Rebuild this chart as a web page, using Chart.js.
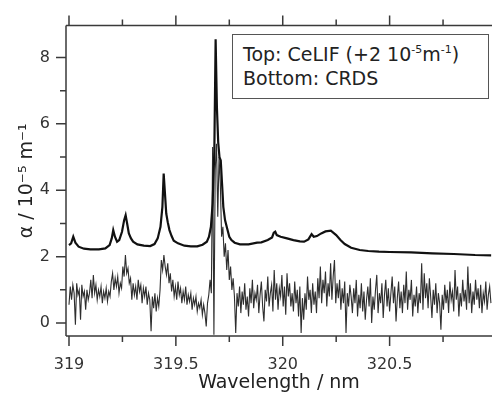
<!DOCTYPE html>
<html lang="en">
<head>
    <meta charset="UTF-8">
    <title>CeLIF vs CRDS</title>
    <script src="https://cdn.jsdelivr.net/npm/chart.js"></script>
    <style>
        body { margin: 0; background: #fff; }
        #wrap { position: relative; width: 492px; height: 395px; }
        #legendBox {
            position: absolute; left: 232px; top: 34px; width: 257px; height: 65px;
            box-sizing: border-box; border: 1px solid #555; background: #fff;
            font-family: "DejaVu Sans"; font-size: 19px; line-height: 24px; color: #222;
            padding: 7px 0 0 10px; white-space: nowrap;
        }
        #legendBox sup { font-size: 11px; vertical-align: 8px; line-height: 0; }
    </style>
</head>
<body>
    <div id="wrap">
        <canvas id="chart" width="492" height="395"></canvas>
        <div id="legendBox">Top: CeLIF (+2 10<sup>-5</sup>m<sup>-1</sup>)<br>Bottom: CRDS</div>
    </div>

    <script>
        // CRDS trace, sampled every 0.006 nm starting at 319.000 nm
        const crdsStart = 319.0;
        const crdsStep = 0.006;
        const crdsAlpha = [
            0.55, 1.1, 0.7, 1.15, 0.9, -0.05, 1.2, 0.85, 1.0, 0.1,
            1.15, 0.8, 0.95, 0.4, 1.0, 0.7, 0.9, 1.3, 0.75, 1.45,
            0.9, 1.15, 0.7, 1.0, 0.8, 1.1, 0.6, 0.95, 0.75, 1.05,
            0.65, 0.95, 0.8, 1.25, 1.5, 1.0, 1.35, 1.1, 1.4, 0.9,
            1.2, 1.05, 1.7, 1.4, 2.05, 1.5, 1.65, 1.2, 1.35, 0.7,
            1.2, 0.85, 1.1, 0.7, 1.3, 0.95, 1.15, 0.6, 1.05, 0.8,
            1.1, 0.55, 0.9, 0.7, -0.25, 0.8, 0.45, 0.9, 0.35, 0.75,
            0.5, 1.0, 1.9, 1.6, 2.05, 1.7, 1.45, 1.8, 1.2, 1.5,
            0.95, 1.3, 0.8, 1.1, 0.7, 1.25, 0.85, 1.05, 0.6, 0.95,
            0.7, 1.1, 0.55, 0.85, 0.65, 0.9, 0.4, 0.75, 0.55, 0.8,
            0.35, 0.6, 0.45, 0.7, 0.25, 0.55, 0.3, -0.1, 0.6, 0.85,
            1.3, 0.9, 5.3, -0.35, 4.6, 5.4, 3.2, 5.0, 4.2, 2.6,
            2.9, 2.0, 2.4, 1.6, 2.2, 1.3, 1.7, 1.0, 1.35, 0.8,
            -0.3, 0.9, 0.5, 1.1, 0.3, 0.95, 0.55, 1.2, 0.4, 0.8,
            0.2, 1.05, 0.6, 1.3, 0.45, 0.9, 0.7, 1.15, 0.3, 0.85,
            1.25, 0.5, 0.05, 1.0, 0.65, 1.4, 0.5, 0.9, 1.15, 0.35,
            1.6, 0.7, 1.2, 0.4, 1.05, 0.8, 1.45, 0.5, 1.1, 0.25,
            1.5, 0.8, 1.2, 0.5, 0.9, 0.35, 1.25, 0.6, 1.0, 0.2,
            1.1, -0.3, 0.75, 0.1, 0.9, 0.4, 1.4, 0.7, 1.0, 0.3,
            1.2, 0.55, 0.95, 0.3, 1.35, 0.75, 1.7, 0.6, 1.3, 0.9,
            1.55, 0.5, 1.2, 0.8, 1.8, 0.7, 1.4, 1.9, 0.6, 1.2,
            0.75, 1.3, 0.4, 1.05, 0.6, 1.25, -0.3, 0.9, 0.5, 1.15,
            0.8, 0.3, 1.05, 0.6, 1.3, 0.2, 0.85, 0.45, 1.2, 0.35,
            0.95, 0.1, 0.7, 1.1, 0.5, 1.35, 0.0, 0.8, 0.4, 1.0,
            1.45, 0.3, 0.9, 0.6, 1.2, 0.15, 0.85, 1.3, 0.5, 1.05,
            0.35, 0.9, 1.4, 0.6, 1.1, 0.05, 0.75, 1.25, 0.45, 0.95,
            0.3, 1.15, 0.6, 1.55, 0.4, 1.0, 0.7, 1.3, 0.2, 0.85,
            0.5, 1.1, 0.3, 0.9, 0.6, 1.8, 0.4, 1.5, 0.75, 1.2,
            0.45, 1.35, 0.8, 0.15, 1.0, 0.55, 1.2, 0.3, 0.9, 0.6,
            -0.2, 0.85, 0.4, 1.15, 0.6, 1.0, 0.3, 1.25, 0.7, 0.95,
            0.35, 1.6, 0.7, 1.1, 0.2, 0.9, 0.5, 1.3, 0.65, 1.0,
            0.4, 1.7, 0.6, 1.2, 0.3, 0.95, 0.55, 1.3, 0.7, 1.05,
            0.45, 1.15, 0.3, 0.9, 0.65, 1.25, 0.4, 0.85, 1.1, 0.6
        ];

        // CeLIF trace (already offset by +2)
        const celifWavelength = [
            319.000, 319.010, 319.020, 319.030, 319.045, 319.070, 319.100, 319.140, 319.170, 319.190,
            319.200, 319.207, 319.215, 319.225, 319.235, 319.248, 319.258, 319.265, 319.272, 319.280,
            319.290, 319.300, 319.320, 319.350, 319.380, 319.400, 319.415, 319.428, 319.437, 319.443,
            319.449, 319.455, 319.462, 319.470, 319.480, 319.490, 319.510, 319.540, 319.570, 319.600,
            319.625, 319.645, 319.655, 319.664, 319.672, 319.680, 319.686, 319.692, 319.698, 319.704,
            319.710, 319.716, 319.722, 319.730, 319.740, 319.750, 319.760, 319.775, 319.800, 319.840,
            319.880, 319.900, 319.930, 319.950, 319.958, 319.965, 319.972, 319.990, 320.020, 320.050,
            320.080, 320.100, 320.120, 320.135, 320.145, 320.160, 320.180, 320.200, 320.225, 320.250,
            320.270, 320.290, 320.320, 320.360, 320.400, 320.450, 320.500, 320.600, 320.700, 320.800,
            320.900, 320.975
        ];
        const celifAlpha = [
            2.35, 2.40, 2.60, 2.42, 2.30, 2.24, 2.22, 2.22, 2.25, 2.35,
            2.55, 2.80, 2.60, 2.45, 2.50, 2.75, 3.10, 3.25, 3.00, 2.70,
            2.55, 2.45, 2.37, 2.33, 2.32, 2.38, 2.55, 2.90, 3.50, 4.50,
            3.90, 3.30, 3.04, 2.80, 2.62, 2.48, 2.40, 2.33, 2.31, 2.31,
            2.36, 2.45, 2.60, 2.90, 3.60, 5.20, 8.55, 6.50, 5.45, 5.00,
            4.90, 4.20, 3.50, 3.10, 2.85, 2.60, 2.50, 2.42, 2.37, 2.37,
            2.42, 2.43, 2.50, 2.58, 2.72, 2.75, 2.65, 2.60, 2.55, 2.50,
            2.46, 2.45, 2.52, 2.68, 2.60, 2.62, 2.70, 2.76, 2.78, 2.65,
            2.50, 2.38, 2.27, 2.20, 2.17, 2.15, 2.14, 2.13, 2.10, 2.08,
            2.05, 2.04
        ];

        const xMin = 318.986, xMax = 320.979;
        const yMin = -0.39, yMax = 8.96;

        Chart.defaults.font.family = 'DejaVu Sans';

        function isMultiple(v, step) {
            return Math.abs(v / step - Math.round(v / step)) < 1e-6;
        }

        // axis lines + major/minor tick marks (top axis mirrored)
        const axesPlugin = {
            id: 'axes',
            afterDraw(chart) {
                const ctx = chart.ctx;
                const a = chart.chartArea;
                const x = chart.scales.x, y = chart.scales.y;
                ctx.save();
                ctx.strokeStyle = '#3a3a3a';
                ctx.lineWidth = 1.5;
                ctx.beginPath();
                ctx.moveTo(a.left, a.top); ctx.lineTo(a.left, a.bottom);
                ctx.moveTo(a.left, a.top); ctx.lineTo(a.right, a.top);
                ctx.moveTo(a.left, a.bottom); ctx.lineTo(a.right, a.bottom);
                x.ticks.forEach(t => {
                    const px = x.getPixelForValue(t.value);
                    const len = isMultiple(t.value, 0.5) ? 10 : 6;
                    ctx.moveTo(px, a.bottom); ctx.lineTo(px, a.bottom + len);
                    ctx.moveTo(px, a.top); ctx.lineTo(px, a.top - len);
                });
                y.ticks.forEach(t => {
                    const py = y.getPixelForValue(t.value);
                    const len = isMultiple(t.value, 2) ? 10 : 6;
                    ctx.moveTo(a.left, py); ctx.lineTo(a.left - len, py);
                });
                ctx.stroke();
                ctx.restore();
            }
        };

        const celifData = celifWavelength.map((w, i) => ({ x: w, y: celifAlpha[i] }));
        const crdsData = crdsAlpha.map((v, i) => ({ x: crdsStart + i * crdsStep, y: v }));

        new Chart(document.getElementById('chart'), {
            type: 'line',
            data: {
                datasets: [
                    {
                        label: 'CeLIF',
                        data: celifData,
                        borderColor: '#111',
                        borderWidth: 2.2,
                        pointRadius: 0,
                        tension: 0
                    },
                    {
                        label: 'CRDS',
                        data: crdsData,
                        borderColor: '#2e2e2e',
                        borderWidth: 1.1,
                        pointRadius: 0,
                        tension: 0
                    }
                ]
            },
            options: {
                responsive: false,
                animation: false,
                layout: { padding: { top: 20, right: 0, left: 0, bottom: 0 } },
                plugins: { legend: { display: false }, tooltip: { enabled: false } },
                scales: {
                    x: {
                        type: 'linear',
                        min: xMin,
                        max: xMax,
                        grid: { display: false, drawTicks: false },
                        border: { display: false },
                        ticks: {
                            stepSize: 0.25,
                            includeBounds: false,
                            autoSkip: false,
                            maxRotation: 0,
                            padding: 19,
                            color: '#333',
                            font: { size: 16 },
                            callback: v => isMultiple(v, 0.5) ? String(+v.toFixed(2)) : ''
                        },
                        title: {
                            display: true,
                            text: 'Wavelength / nm',
                            color: '#222',
                            font: { size: 19 },
                            padding: { top: 0, bottom: 1 }
                        },
                        afterFit(scale) { scale.height = 59; }
                    },
                    y: {
                        min: yMin,
                        max: yMax,
                        grid: { display: false, drawTicks: false },
                        border: { display: false },
                        ticks: {
                            stepSize: 1,
                            includeBounds: false,
                            padding: 16,
                            color: '#333',
                            font: { size: 16 },
                            callback: v => isMultiple(v, 2) ? String(v) : ''
                        },
                        title: {
                            display: true,
                            text: 'α / 10⁻⁵ m⁻¹',
                            color: '#222',
                            font: { size: 19 },
                            padding: { top: 16, bottom: 0 }
                        },
                        afterFit(scale) { scale.width = 66; }
                    }
                }
            },
            plugins: [axesPlugin]
        });
    </script>
</body>
</html>
